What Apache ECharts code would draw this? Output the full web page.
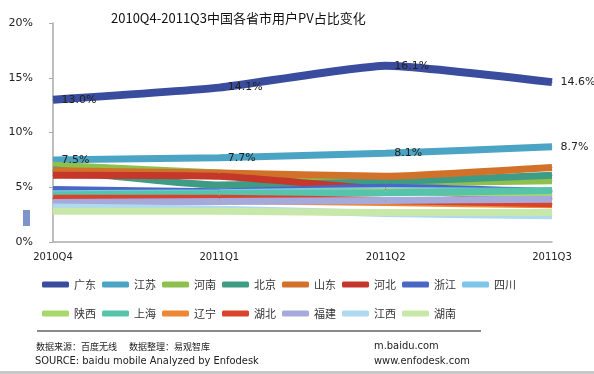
<!DOCTYPE html>
<html><head><meta charset="utf-8">
<script src="https://cdn.jsdelivr.net/npm/echarts@6/dist/echarts.min.js"></script>
<style>html,body{margin:0;padding:0;background:#fff}#c{width:594px;height:374px}</style>
</head><body><div id="c"></div>
<script>
const categories = ['2010Q4','2011Q1','2011Q2','2011Q3'];
const yTicks = ['0%','5%','10%','15%','20%'];
const names = ['广东','江苏','河南','北京','山东','河北','浙江','四川','陕西','上海','辽宁','湖北','福建','江西','湖南'];
const guangdong = [13.0, 14.1, 16.1, 14.6];
const jiangsu   = [7.5, 7.7, 8.1, 8.7];
const henan     = [7.0, 6.3, 5.4, 5.6];
const beijing   = [6.6, 5.2, 5.5, 6.1];
const shandong  = [6.5, 6.3, 6.0, 6.8];
const hebei     = [6.1, 6.0, 4.8, 4.0];
const zhejiang  = [4.8, 4.6, 5.0, 4.6];
const sichuan   = [4.4, 4.5, 4.7, 4.6];
const shaanxi   = [4.2, 4.3, 4.6, 4.4];
const shanghai  = [4.3, 4.4, 4.5, 4.7];
const liaoning  = [3.9, 3.8, 3.6, 3.4];
const hubei     = [4.0, 4.0, 3.8, 3.5];
const fujian    = [3.6, 3.7, 3.8, 3.9];
const jiangxi   = [3.2, 3.0, 2.6, 2.4];
const hunan     = [2.8, 2.8, 2.7, 2.7];
const seriesData = [guangdong, jiangsu, henan, beijing, shandong, hebei, zhejiang, sichuan, shaanxi, shanghai, liaoning, hubei, fujian, jiangxi, hunan];
const colors = ['#3A4C9E','#4BA4C4','#8DC04C','#3F9C84','#D2722A','#C5372B','#4A67C6','#7DC6E8','#A8D86C','#55C4AA','#EE8633','#D9432E','#A5AADA','#AED9EE','#C8E8AA'];
const labeled = [true, true];

const series = names.map((n, i) => ({
  name: n, type: 'line', data: seriesData[i], smooth: 0.15,
  symbol: 'circle', symbolSize: 1, showSymbol: true, color: colors[i],
  itemStyle: { color: colors[i] },
  lineStyle: { width: i === 0 ? 8 : 7, color: colors[i] },
  label: labeled[i] ? { show: true, position: 'right', distance: 8, color: '#222', fontSize: 11,
    fontFamily: 'DejaVu Sans', formatter: p => p.value.toFixed(1) + '%' } : { show: false },
  emphasis: { disabled: true }
}));

const chart = echarts.init(document.getElementById('c'));
const legBase = { orient: 'horizontal', itemWidth: 27, itemHeight: 6, icon: 'roundRect', itemGap: 6,
  textStyle: { fontSize: 11, color: '#333', fontFamily: 'Noto Sans CJK SC' }, selectedMode: false };
chart.setOption({
  animation: false,
  backgroundColor: '#fff',
  title: { text: '2010Q4-2011Q3中国各省市用户PV占比变化', left: 106, top: 7,
    textStyle: { fontSize: 13, fontWeight: 'normal', color: '#111', fontFamily: 'Noto Sans CJK SC' } },
  grid: { left: 53, right: 42, top: 23, bottom: 132 },
  xAxis: { type: 'category', data: categories, boundaryGap: false,
    axisLine: { lineStyle: { color: '#aaa', width: 1.5 } }, axisTick: { show: false },
    axisLabel: { color: '#222', fontSize: 10, margin: 10, fontFamily: 'DejaVu Sans' } },
  yAxis: { type: 'value', min: 0, max: 20, interval: 5,
    axisLine: { show: true, lineStyle: { color: '#aaa', width: 1.5 } },
    axisTick: { show: true, inside: false, length: 4, lineStyle: { color: '#aaa' } },
    splitLine: { show: false },
    axisLabel: { color: '#222', fontSize: 11, margin: 20, fontFamily: 'DejaVu Sans',
      formatter: v => yTicks[v / 5] } },
  legend: [
    Object.assign({}, legBase, { data: names.slice(0, 8), left: 37, top: 274 }),
    Object.assign({}, legBase, { data: names.slice(8), left: 37, top: 303 })
  ],
  graphic: [
    { type: 'rect', shape: { x: 23, y: 210, width: 7, height: 16 }, style: { fill: '#7F94CB' } },
    { type: 'line', shape: { x1: 37, y1: 331, x2: 481, y2: 331 }, style: { stroke: '#8a8a8a', lineWidth: 2 } },
    { type: 'text', left: 36, top: 342, style: { text: '数据来源：百度无线      数据整理：易观智库', fontSize: 9, fill: '#222', fontFamily: 'Noto Sans CJK SC' } },
    { type: 'text', left: 35, top: 356, style: { text: 'SOURCE: baidu mobile Analyzed by Enfodesk', fontSize: 11, fill: '#222', fontFamily: 'DejaVu Sans Condensed' } },
    { type: 'text', left: 374, top: 341, style: { text: 'm.baidu.com', fontSize: 11, fill: '#222', fontFamily: 'DejaVu Sans Condensed' } },
    { type: 'text', left: 374, top: 356, style: { text: 'www.enfodesk.com', fontSize: 11, fill: '#222', fontFamily: 'DejaVu Sans Condensed' } },
    { type: 'rect', shape: { x: 0, y: 371, width: 594, height: 3 }, style: { fill: '#c8c8c8' } }
  ],
  series: series
});
</script></body></html>
